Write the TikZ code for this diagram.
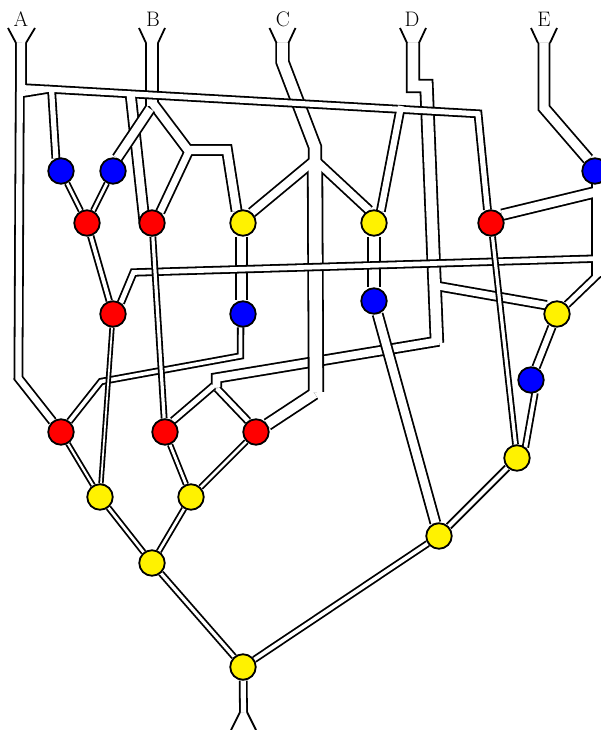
\documentclass[tikz,border=0pt]{standalone}
\usepackage{tikz}
\usetikzlibrary{backgrounds}
\newcommand{\chanset}[1]{\foreach \wallcol/\walladd in {black/1.8, white/-1.8} {#1}}

\begin{document}
\begin{tikzpicture}[
  x=1pt, y=-1pt,
  redv/.style={circle, draw=black, line width=1.8pt, fill=red, minimum size=25.5pt, inner sep=0pt},
  bluev/.style={redv, fill=blue},
  yellowv/.style={redv, fill=yellow},
  inlet/.style={font=\fontsize{21}{24}\selectfont, anchor=base, inner sep=0pt},
  flare/.style={line width=1.8pt, line join=miter},
  chan/.style={draw=\wallcol, line width=#1+\walladd, line cap=square, line join=miter},
  open/.style={line cap=butt},
]
  \useasboundingbox (0,0) rectangle (600,730);

  % Valves
  \node[bluev] (b1) at (61, 171) {};
  \node[bluev] (b2) at (113, 171) {};
  \node[bluev] (b3) at (595, 171) {};
  \node[bluev] (b4) at (243, 314) {};
  \node[bluev] (b5) at (374, 301) {};
  \node[bluev] (b6) at (531, 380) {};
  \node[redv] (r1) at (87, 223) {};
  \node[redv] (r2) at (152, 223) {};
  \node[redv] (r3) at (491, 223) {};
  \node[redv] (r4) at (113, 314) {};
  \node[redv] (r5) at (61, 432) {};
  \node[redv] (r6) at (165, 432) {};
  \node[redv] (r7) at (256, 432) {};
  \node[yellowv] (y1) at (243, 223) {};
  \node[yellowv] (y2) at (374, 223) {};
  \node[yellowv] (y3) at (557, 314) {};
  \node[yellowv] (y4) at (100, 497) {};
  \node[yellowv] (y5) at (191, 497) {};
  \node[yellowv] (y6) at (152, 563) {};
  \node[yellowv] (y7) at (243, 667) {};
  \node[yellowv] (y8) at (439, 536) {};
  \node[yellowv] (y9) at (517, 458) {};

  % Inlets with their labels, and the outlet
  \node[inlet] (labA) at (21, 27) {A};
  \node[inlet] (labB) at (153, 27) {B};
  \node[inlet] (labC) at (283, 27) {C};
  \node[inlet] (labD) at (412, 27) {D};
  \node[inlet] (labE) at (544, 27) {E};
  \coordinate (inA) at (21, 43);
  \coordinate (inB) at (152, 43);
  \coordinate (inC) at (282.5, 43);
  \coordinate (inD) at (413, 43);
  \coordinate (inE) at (544, 43);
  \coordinate (outl) at (243.5, 712);

  % Bends and junctions
  \coordinate (a0) at (20.9, 92);
  \coordinate (a1) at (19.8, 92);
  \coordinate (a2) at (18.4, 378);
  \coordinate (h1) at (20, 87.5);
  \coordinate (h2) at (478, 113.8);
  \coordinate (h3) at (20.5, 93.8);
  \coordinate (h4) at (50, 89);
  \coordinate (h5) at (51.5, 89);
  \coordinate (h6) at (130.5, 93);
  \coordinate (h7) at (401, 106);
  \coordinate (h8) at (144.5, 222);
  \coordinate (j1) at (152, 106);
  \coordinate (j2) at (150.1, 108.8);
  \coordinate (j3) at (152, 102.2);
  \coordinate (j4) at (188, 150);
  \coordinate (j5) at (227, 150);
  \coordinate (j6) at (188.5, 152);
  \coordinate (c1) at (282.5, 62);
  \coordinate (c2) at (315, 147);
  \coordinate (c3) at (315, 165);
  \coordinate (c4) at (315, 160);
  \coordinate (c5) at (316, 392);
  \coordinate (c6) at (314.5, 393.5);
  \coordinate (d1) at (413, 86);
  \coordinate (d2) at (426.5, 86);
  \coordinate (d4) at (437, 343);
  \coordinate (d5) at (439, 341);
  \coordinate (d6) at (216.5, 378);
  \coordinate (d7) at (216.5, 387);
  \coordinate (d8) at (213.5, 386);
  \coordinate (d9) at (217, 388.5);
  \coordinate (d10) at (437, 286);
  \coordinate (e1) at (544, 108);
  \coordinate (v0) at (600.5, 175);
  \coordinate (v1) at (600.5, 276);
  \coordinate (v2) at (600, 191);
  \coordinate (v3) at (600, 258.5);
  \coordinate (v4) at (610, 263);
  \coordinate (k1) at (133.5, 272.5);
  \coordinate (k2) at (240.5, 356);
  \coordinate (k3) at (101, 381.5);

  % Channels, lowest first: a set merges inside and bridges what lies under it
  \begin{scope}[on background layer]
    % D
    \chanset{
      \draw[chan=12.5, open] (inD) -- (d1) -- (d2) -- (d4);
      \draw[chan=9.5, open] (d5) -- (d6) -- (d7);
      \draw[chan=6.6] (d8) -- (r6.55);
      \draw[chan=6.5] (d9) -- (r7.126);
      \draw[chan=8.5] (d10) -- (y3.140);
    }
    % C
    \chanset{
      \draw[chan=12.5, open] (inC) -- (c1) -- (c2) -- (c3);
      \draw[chan=9.5] (c4) -- (y1.50);
      \draw[chan=9] (c4) -- (y2.111);
      \draw[chan=14.5, open] (c3) -- (c5);
      \draw[chan=11.5] (c6) -- (r7);
    }
    % B, without its left branch
    \chanset{
      \draw[chan=12, open] (inB) -- (j1);
      \draw[chan=10] (j3) -- (j4) -- (j5) -- (y1.118);
      \draw[chan=8.5] (j6) -- (r2.53);
    }
    % A
    \chanset{
      \draw[chan=10, open] (inA) -- (a0);
      \draw[chan=8] (a1) -- (a2) -- (r5);
      \draw[chan=7] (h1) -- (h2) -- (r3.105);
      \draw[chan=7] (h3) -- (h4);
      \draw[chan=7] (h5) -- (b1.112);
      \draw[chan=10] (h6) -- (h8);
      \draw[chan=8] (h7) -- (y2.60);
    }
    \chanset{
      \draw[chan=10, open] (j2) -- (b2.72);
      \draw[chan=11] (y1.265) -- (b4.95);
      \draw[chan=12] (y2) -- (b5);
      \draw[chan=10] (b5) -- (y8);
      \draw[chan=5.5] (b4.-100) -- (k2) -- (k3) -- (r5);
    }
    % E
    \chanset{
      \draw[chan=11, open] (inE) -- (e1) -- (b3.120);
    }
    \chanset{
      \draw[chan=17, open] (v0) -- (v1);
      \draw[chan=10.5] (r3.37) -- (v2);
      \draw[chan=6.5] (v3) -- (k1) -- (r4.55);
      \draw[chan=6.7] (y3) -- (v4);
    }
    % Between the valves
    \chanset{
      \draw[chan=4.5] (r1) -- (b1);
      \draw[chan=4.5] (r1) -- (b2);
      \draw[chan=5.5] (r1) -- (r4);
      \draw[chan=5] (r2) -- (r6);
      \draw[chan=5] (r3) -- (y9);
      \draw[chan=7.5] (y3) -- (b6);
      \draw[chan=5.5] (b6.-73) -- (y9.52);
      \draw[chan=3.5] (r4) -- (y4);
      \draw[chan=4] (r5) -- (y4);
      \draw[chan=4.5] (r6) -- (y5);
      \draw[chan=4.5] (r7) -- (y5);
      \draw[chan=4.5] (y4) -- (y6);
      \draw[chan=4.5] (y5) -- (y6);
      \draw[chan=5] (y6) -- (y7);
      \draw[chan=5.5] (y7) -- (y8);
      \draw[chan=6] (y9) -- (y8);
      \draw[chan=7, open] (y7) -- (outl);
    }
  \end{scope}

  % Flared ends
  \draw[flare] (inA) ++(-5, 0) -- ++(-8, -15);
  \draw[flare] (inA) ++(5, 0) -- ++(9, -15);
  \foreach \port in {inB, inC, inD, inE} {
    \draw[flare] (\port) ++(-6, 0) -- ++(-7, -15);
    \draw[flare] (\port) ++(6, 0) -- ++(7, -15);
  }
  \draw[flare] (outl) ++(-3.5, 0) -- ++(-9, 18);
  \draw[flare] (outl) ++(3.5, 0) -- ++(9, 18);
\end{tikzpicture}
\end{document}
